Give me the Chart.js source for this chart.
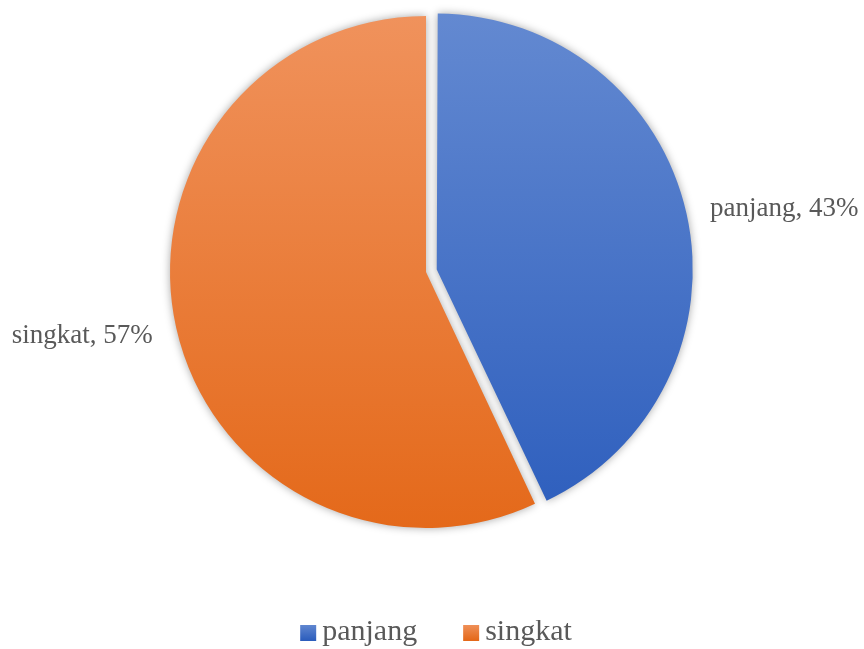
<!DOCTYPE html>
<html><head><meta charset="utf-8">
<script src="https://cdn.jsdelivr.net/npm/chart.js@4/dist/chart.umd.min.js"></script>
<style>html,body{margin:0;padding:0;background:#fff}#wrap{width:864px;height:649px;position:relative}</style>
</head><body><div id="wrap"><canvas id="c"></canvas></div>
<script>
const categories = ['panjang', 'singkat'];
const values = [43, 57];
const topColors = ['#6389d1', '#f0925c'];
const bottomColors = ['#2d5ebd', '#e4691a'];

const FONT = "'Liberation Serif', 'DejaVu Serif', serif";
const R = 256;

function sliceFill(ctx) {
  const i = ctx.dataIndex;
  const chart = ctx.chart;
  const a = chart.chartArea;
  if (!a || i === undefined) return topColors[i || 0];
  const cy = (a.top + a.bottom) / 2;
  const g = chart.ctx.createLinearGradient(0, cy - R, 0, cy + R);
  g.addColorStop(0, topColors[i]);
  g.addColorStop(1, bottomColors[i]);
  return g;
}

// keep exploded slice at the same radius as the others
const radiusFixPlugin = {
  id: 'radiusFix',
  afterDatasetUpdate(chart, args) {
    args.meta.data.forEach(arc => {
      const off = ((arc.options && arc.options.offset) || 0) / 4;
      if (!off) return;
      const fix = 1 - Math.sin(Math.min(Math.PI, arc.circumference || 0));
      arc.outerRadius = arc.outerRadius - off * fix;
    });
  }
};

const shadowPlugin = {
  id: 'shadow',
  beforeDatasetsDraw(chart) {
    const c = chart.ctx;
    c.save();
    c.shadowColor = 'rgba(0,0,0,0.35)';
    c.shadowBlur = 9;
    c.shadowOffsetX = 0;
    c.shadowOffsetY = 0;
  },
  afterDatasetsDraw(chart) { chart.ctx.restore(); }
};

const labelPlugin = {
  id: 'sliceLabels',
  afterDatasetsDraw(chart) {
    const c = chart.ctx;
    const meta = chart.getDatasetMeta(0);
    const total = values.reduce((s, v) => s + v, 0);
    c.save();
    c.font = '27px ' + FONT;
    c.fillStyle = '#595959';
    c.textBaseline = 'middle';
    meta.data.forEach((arc, i) => {
      const mid = (arc.startAngle + arc.endAngle) / 2;
      const off = ((arc.options && arc.options.offset) || 0) / 4;
      const rr = R + 24 + off;
      const x = arc.x + Math.cos(mid) * rr;
      const y = arc.y + Math.sin(mid) * rr + (Math.cos(mid) < 0 ? 3 : 0);
      c.textAlign = Math.cos(mid) >= 0 ? 'left' : 'right';
      const pct = Math.round(values[i] / total * 100);
      c.fillText(categories[i] + ', ' + pct + '%', x, y);
    });
    c.restore();
  }
};

const legendPlugin = {
  id: 'bottomLegend',
  afterDraw(chart) {
    const c = chart.ctx;
    c.save();
    c.font = '30px ' + FONT;
    c.textBaseline = 'middle';
    c.textAlign = 'left';
    const box = 16, gapText = 6, gapItem = 46;
    const widths = categories.map(t => c.measureText(t).width);
    let total = 0;
    widths.forEach((w, i) => { total += box + gapText + w + (i < widths.length - 1 ? gapItem : 0); });
    let x = 436 - total / 2;
    const y = 632;
    categories.forEach((t, i) => {
      const g = c.createLinearGradient(0, y - box / 2, 0, y + box / 2);
      g.addColorStop(0, topColors[i]);
      g.addColorStop(1, bottomColors[i]);
      c.fillStyle = g;
      c.fillRect(x, y + 1 - box / 2, box, box);
      x += box + gapText;
      c.fillStyle = '#595959';
      c.fillText(t, x, y);
      x += widths[i] + gapItem;
    });
    c.restore();
  }
};

new Chart(document.getElementById('c'), {
  type: 'pie',
  data: {
    labels: categories,
    datasets: [{
      data: values,
      backgroundColor: sliceFill,
      borderWidth: 0,
      offset: [44, 0],
      radius: R
    }]
  },
  options: {
    responsive: true,
    maintainAspectRatio: false,
    animation: false,
    layout: { padding: { top: 0, right: 12, left: 0, bottom: 105 } },
    plugins: {
      tooltip: { enabled: false },
      legend: { display: false }
    }
  },
  plugins: [radiusFixPlugin, shadowPlugin, labelPlugin, legendPlugin]
});
</script>
</body></html>
